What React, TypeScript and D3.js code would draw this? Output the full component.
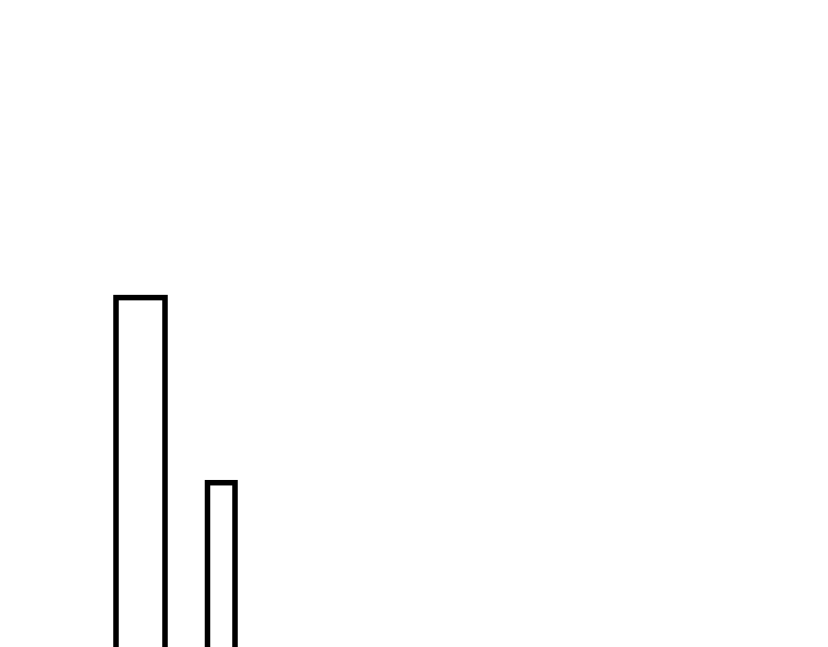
import React from "react";
import * as d3 from "d3";

const binStart = [0, 9.15];
const binEnd = [4.9, 11.9];
const values = [80, 43.2];

const W = 828;
const H = 647;

export default function App() {
  const x = d3.scaleLinear().domain([0, 10]).range([116, 216]);
  const y = d3.scaleLinear().domain([0, 100]).range([700, 197]);
  const bins = values.map((v, i) => ({ x0: binStart[i], x1: binEnd[i], v }));
  return (
    <svg
      width={W}
      height={H}
      style={{ position: "fixed", left: 0, top: 0, background: "#fff" }}
    >
      <rect x={0} y={0} width={W} height={H} fill="#fff" />
      {bins.map((b, i) => (
        <rect
          key={i}
          x={x(b.x0)}
          y={y(b.v)}
          width={x(b.x1) - x(b.x0)}
          height={y(0) - y(b.v)}
          fill="#fff"
          stroke="#000"
          strokeWidth={5.5}
        />
      ))}
    </svg>
  );
}
